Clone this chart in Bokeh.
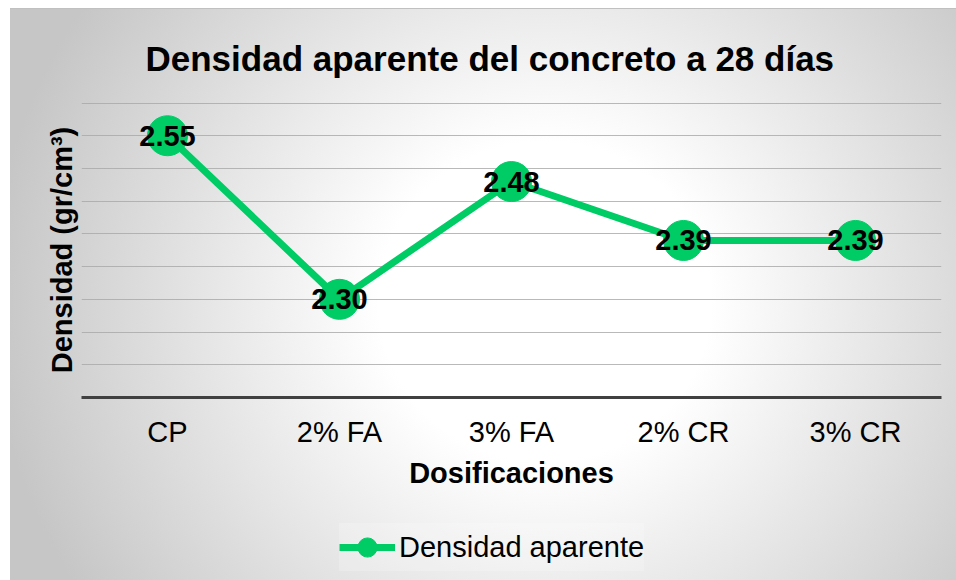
from bokeh.plotting import figure
from bokeh.layouts import column
from bokeh.models import ColumnDataSource, FixedTicker, Legend, LegendItem, Title, Range1d
from bokeh.core.properties import value
from bokeh.embed import file_html
from bokeh.resources import INLINE

categories = ["CP", "2% FA", "3% FA", "2% CR", "3% CR"]
densidad = [2.55, 2.30, 2.48, 2.39, 2.39]
labels = ["2.55", "2.30", "2.48", "2.39", "2.39"]
y_ticks = [2.15, 2.20, 2.25, 2.30, 2.35, 2.40, 2.45, 2.50, 2.55, 2.60]
series_name = "Densidad aparente"

GREEN = "#00CC66"
FONT = "Liberation Sans"

src = ColumnDataSource(data=dict(x=categories, y=densidad, t=labels))

p = figure(width=956, height=505, x_range=categories, y_range=Range1d(2.15, 2.6008),
           output_backend="svg", toolbar_location=None,
           min_border_left=81, min_border_right=15, min_border_top=102, min_border_bottom=108)
p.background_fill_color = None
p.border_fill_color = None
p.outline_line_color = None

p.title = Title(text="Densidad aparente del concreto a 28 días", align="left", offset=64,
                text_font=FONT, text_font_size="35px", text_font_style="bold",
                text_color="#000000", standoff=50)

# axes
p.xaxis.axis_line_color = "#404040"
p.xaxis.axis_line_width = 3
p.xaxis.major_tick_line_color = None
p.xaxis.minor_tick_line_color = None
p.xaxis.major_label_text_font = FONT
p.xaxis.major_label_text_font_size = "29px"
p.xaxis.major_label_text_color = "#000000"
p.xaxis.major_label_standoff = 12
p.xaxis.axis_label = "Dosificaciones"
p.xaxis.axis_label_text_font = FONT
p.xaxis.axis_label_text_font_size = "29px"
p.xaxis.axis_label_text_font_style = "bold"
p.xaxis.axis_label_text_color = "#000000"
p.xaxis.axis_label_standoff = 6

p.yaxis.ticker = FixedTicker(ticks=y_ticks)
p.yaxis.axis_line_color = None
p.yaxis.major_tick_line_color = None
p.yaxis.minor_tick_line_color = None
p.yaxis.major_tick_out = 0
p.yaxis.major_label_standoff = 0
p.yaxis.major_label_text_font_size = "0px"
p.yaxis.axis_label = "Densidad (gr/cm³)"
p.yaxis.axis_label_text_font = FONT
p.yaxis.axis_label_text_font_size = "29px"
p.yaxis.axis_label_text_font_style = "bold"
p.yaxis.axis_label_text_color = "#000000"
p.yaxis.axis_label_standoff = 4

p.xgrid.grid_line_color = None
p.ygrid.ticker = FixedTicker(ticks=y_ticks)
p.ygrid.grid_line_color = "#a8a8a8"
p.ygrid.grid_line_alpha = 0.8
p.ygrid.grid_line_width = 1

p.line("x", "y", source=src, line_color=GREEN, line_width=7)
p.scatter("x", "y", source=src, size=40, fill_color=GREEN, line_color=GREEN)
p.text("x", "y", text="t", source=src, text_font=value(FONT), text_font_size="29px",
       text_font_style="bold", text_color="#000000", text_align="center",
       text_baseline="middle")

# legend strip below the chart (its renderers hold the series but lie outside its view)
p2 = figure(width=956, height=75, x_range=Range1d(0, 1), y_range=Range1d(0, 1),
            x_axis_type=None, y_axis_type=None,
            output_backend="svg", toolbar_location=None,
            min_border_left=0, min_border_right=0, min_border_top=0, min_border_bottom=0)
p2.background_fill_color = None
p2.border_fill_color = None
p2.outline_line_color = None
p2.grid.visible = False

lg_src = ColumnDataSource(data=dict(x=list(range(len(categories))), y=densidad))
lg_line = p2.line("x", "y", source=lg_src, line_color=GREEN, line_width=7)
lg_dot = p2.scatter("x", "y", source=lg_src, size=20, fill_color=GREEN, line_color=GREEN)

legend = Legend(items=[LegendItem(label=series_name, renderers=[lg_line, lg_dot])],
                location=(258, 9), orientation="horizontal",
                label_text_font=FONT, label_text_font_size="29px", label_text_color="#000000",
                glyph_width=56, glyph_height=48, label_standoff=4, padding=2,
                margin=0, spacing=0, label_height=48,
                background_fill_color="#ffffff", background_fill_alpha=0.2,
                border_line_color=None)
p2.add_layout(legend, "center")

lay = column(p, p2, spacing=0)
lay.styles = {"background": (
    "linear-gradient(#ffffff, #ffffff) 0 0 / 100% 8px no-repeat, "
    "linear-gradient(#ffffff, #ffffff) 0 0 / 10px 100% no-repeat, "
    "linear-gradient(#c0c0c0, #c0c0c0) 10px 8px / 100% 1px no-repeat, "
    "radial-gradient(58% 92% at 57% 52%, #ffffff 0%, #ffffff 30%, #c6c6c6 100%)")}

open("out.html", "w").write(file_html(lay, INLINE))
